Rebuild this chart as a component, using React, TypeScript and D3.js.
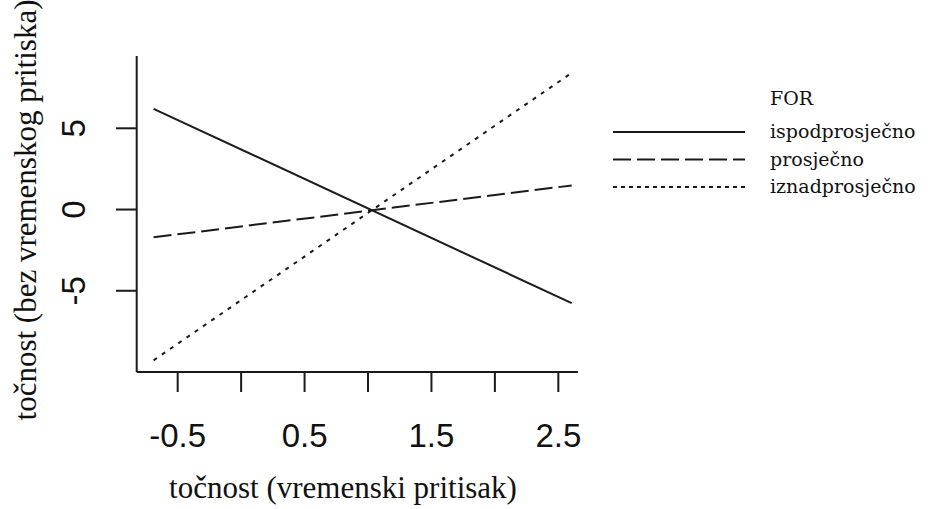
import React from 'react';
import * as d3 from 'd3';

// x endpoints of the interaction lines
const xValues = [-0.69, 2.605];

const groups = ['ispodprosječno', 'prosječno', 'iznadprosječno'];
const series = [
  [6.2, -5.76],
  [-1.71, 1.48],
  [-9.28, 8.41],
];

const xTicks = [-0.5, 0, 0.5, 1, 1.5, 2, 2.5];
const xTickLabels = [-0.5, 0.5, 1.5, 2.5];
const yTicks = [-5, 0, 5];

const dashes = ['none', '18,6', '4,6'];
const legendDashes = ['none', '18,6', '4,4'];

const sans = "'Liberation Sans', Arial, sans-serif";
const serif = "'Liberation Serif', 'Times New Roman', serif";
const slab = "'DejaVu Serif', serif";

const App = () => {
  const width = 928,
    height = 509;

  const x = d3.scaleLinear().domain([-0.823, 2.655]).range([136.7, 578]);
  const y = d3.scaleLinear().domain([-10.0, 9.45]).range([372, 56]);

  const line = d3
    .line<number>()
    .x((d, i) => x(xValues[i]))
    .y((d) => y(d));

  const ink = '#1a1a1a';

  return (
    <svg
      width={width}
      height={height}
      style={{ position: 'absolute', left: 0, top: 0, background: '#fff' }}
    >
      {/* axes */}
      <line x1={x.range()[0]} x2={x.range()[0]} y1={y.range()[1]} y2={y.range()[0]} stroke={ink} strokeWidth={2} />
      <line x1={x.range()[0]} x2={x.range()[1]} y1={y.range()[0]} y2={y.range()[0]} stroke={ink} strokeWidth={2} />

      {xTicks.map((t) => (
        <line key={t} x1={x(t)} x2={x(t)} y1={372} y2={392} stroke={ink} strokeWidth={2} />
      ))}
      {xTickLabels.map((t) => (
        <text
          key={t}
          x={x(t)}
          y={447}
          textAnchor="middle"
          style={{ fontFamily: sans, fontSize: 33 }}
          fill="#111"
        >
          {t}
        </text>
      ))}

      {yTicks.map((t) => (
        <g key={t}>
          <line x1={116} x2={136.7} y1={y(t)} y2={y(t)} stroke={ink} strokeWidth={2} />
          <text
            transform={`translate(85,${y(t)}) rotate(-90)`}
            textAnchor="middle"
            style={{ fontFamily: sans, fontSize: 33 }}
            fill="#111"
          >
            {t}
          </text>
        </g>
      ))}

      {/* axis titles */}
      <text x={343} y={498} textAnchor="middle" style={{ fontFamily: serif, fontSize: 31 }} fill="#111">
        točnost (vremenski pritisak)
      </text>
      <text
        transform="translate(36,210) rotate(-90)"
        textAnchor="middle"
        style={{ fontFamily: serif, fontSize: 31 }}
        fill="#111"
      >
        točnost (bez vremenskog pritiska)
      </text>

      {/* lines */}
      {series.map((s, i) => (
        <path
          key={groups[i]}
          d={line(s) || ''}
          fill="none"
          stroke={ink}
          strokeWidth={2}
          strokeDasharray={dashes[i]}
        />
      ))}

      {/* legend */}
      <text x={770} y={105} style={{ fontFamily: slab, fontSize: 19 }} fill="#111">
        FOR
      </text>
      {groups.map((g, i) => (
        <g key={g} transform={`translate(0,${132 + i * 27.5})`}>
          <line x1={613} x2={745} y1={0} y2={0} stroke={ink} strokeWidth={2} strokeDasharray={legendDashes[i]} />
          <text x={770} y={6} style={{ fontFamily: slab, fontSize: 19 }} fill="#111">
            {g}
          </text>
        </g>
      ))}
    </svg>
  );
};

export default App;
